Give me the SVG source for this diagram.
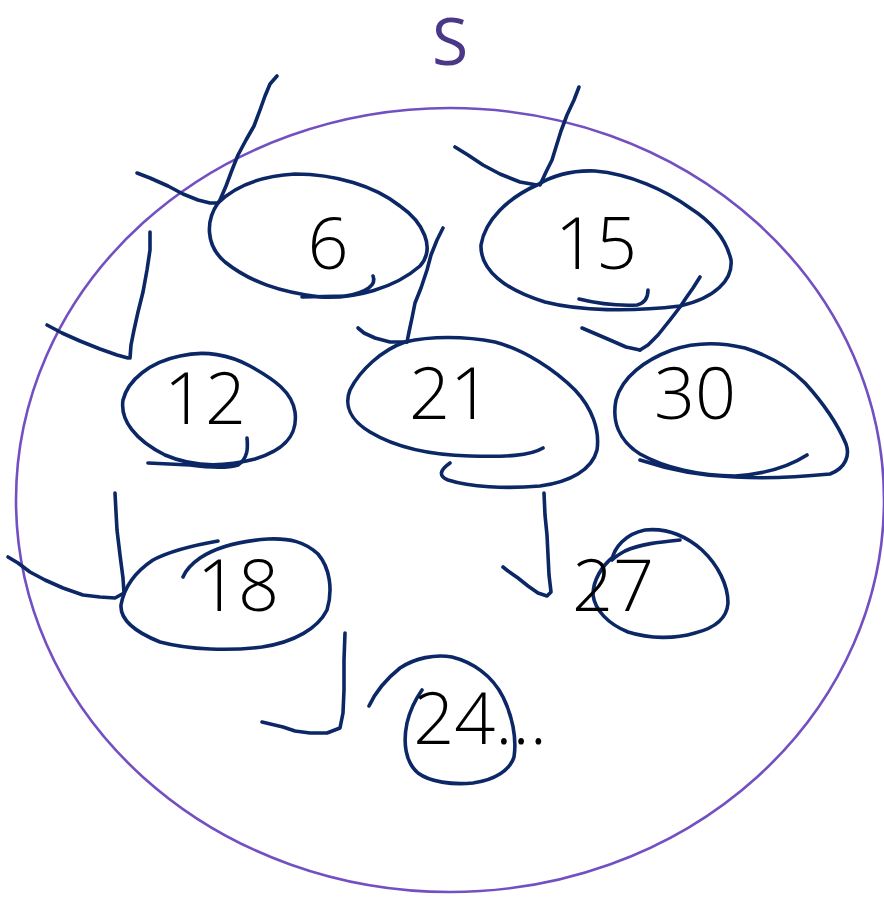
<svg xmlns="http://www.w3.org/2000/svg" width="884" height="899" viewBox="0 0 884 899">
<style>
.ink{fill:none;stroke:#0c2766;stroke-width:3.6;stroke-linecap:round;stroke-linejoin:round}
.num{font-family:"Open Sans","Segoe UI","Liberation Sans",sans-serif;font-weight:300;font-size:72px;fill:#000;text-anchor:middle}
</style>
<rect width="884" height="899" fill="#fff"/>
<g id="set-S">
<ellipse cx="450" cy="500" rx="434" ry="392" fill="none" stroke="#7350c2" stroke-width="2.6"/>
<text x="450" y="65" font-family="'Open Sans','Segoe UI','Liberation Sans',sans-serif" font-weight="400" font-size="66" fill="#4a3788" text-anchor="middle">S</text>
</g>
<g id="connectors">
<polyline class="ink" points="277,76 270,84 265,96 260,110 254,126 246,140 238,155 232,170 226,186 220,200 218,203"/>
<polyline class="ink" points="137,173 150,178 168,186 183,194 198,200 210,203 218,203"/>
<polyline class="ink" points="443,228 437,240 431,255 427,270 421,288 415,303 412,318 409,332 407,342"/>
<polyline class="ink" points="358,328 364,333 375,338 390,342 407,342"/>
<polyline class="ink" points="579,87 574,100 567,115 561,131 556,147 552,160 546,172 540,185"/>
<polyline class="ink" points="455,147 468,155 483,165 500,174 520,182 537,185"/>
<polyline class="ink" points="700,277 693,288 686,298 680,307 670,320 658,335 648,345 640,350"/>
<polyline class="ink" points="582,328 596,334 610,340 626,347 640,350"/>
<polyline class="ink" points="150,232 150,250 147,270 143,292 138,312 134,330 131,345 130,358"/>
<polyline class="ink" points="47,325 62,333 80,341 100,349 117,355 128,358"/>
<polyline class="ink" points="115,493 116,512 117,530 120,555 123,578 124,593"/>
<polyline class="ink" points="8,557 18,563 30,572 45,580 63,588 83,595 100,597 115,598 124,593"/>
<polyline class="ink" points="345,633 344,660 344,690 343,713 340,728 327,733 310,733 295,731 283,727 262,722"/>
<polyline class="ink" points="544,493 545,515 547,535 548,555 549,575 551,592 547,596 538,593 528,586 518,578 508,571 503,567"/>
</g>
<g id="node-6">
<path class="ink" d="M218,203 C206,220 205,245 225,262 C250,282 280,292 320,297 C355,299 395,288 420,266 C436,248 423,222 400,206 C375,186 335,174 295,174 C262,176 235,186 218,203 Z"/>
<path class="ink" d="M373,276 C377,285 366,293 345,296 L302,297"/>
<text class="num" x="328" y="269">6</text>
</g>
<g id="node-15">
<path class="ink" d="M537,185 C508,198 485,220 481,245 C480,270 505,290 545,302 C580,311 630,312 680,306 C715,298 733,280 731,260 C726,238 712,222 690,208 C665,190 630,174 595,171 C570,170 552,176 537,185 Z"/>
<path class="ink" d="M579,299 C595,303 615,306 637,305 C645,303 648,298 648,290"/>
<text class="num" x="596" y="269">15</text>
</g>
<g id="node-12">
<path class="ink" d="M180,356 C150,362 128,380 123,400 C120,420 135,440 165,455 C190,466 220,468 255,459 C285,450 298,435 295,412 C292,392 275,380 250,366 C230,355 205,350 180,356 Z"/>
<path class="ink" d="M247,438 C248,448 248,458 238,465 C225,469 205,467 190,465 L148,463"/>
<text class="num" x="205" y="424">12</text>
</g>
<g id="node-21">
<path class="ink" d="M543,448 C530,456 505,457 470,456 C430,455 395,447 370,432 C350,420 344,405 350,390 C360,370 382,350 405,342 C430,336 465,336 495,342 C525,350 555,370 575,390 C592,408 600,430 597,450 C592,470 570,482 540,486 C505,489 470,487 448,480 C438,476 440,470 450,463"/>
<text class="num" x="450" y="419">21</text>
</g>
<g id="node-30">
<path class="ink" d="M640,460 C670,470 700,476 735,477 C770,479 800,477 830,474 C846,468 850,455 846,444 C838,425 825,405 805,383 C790,368 770,356 745,348 C720,342 695,342 672,350 C645,360 622,377 616,400 C612,420 618,440 640,454 C665,468 700,476 735,476 C765,474 790,466 807,455"/>
<text class="num" x="695" y="419">30</text>
</g>
<g id="node-18">
<path class="ink" d="M218,541 C195,545 172,550 153,560 C135,572 124,588 121,605 C120,620 135,632 160,642 C190,650 230,651 262,647 C295,642 318,628 327,610 C333,590 330,568 318,554 C305,542 290,538 268,539 C240,541 215,548 200,558 C190,565 185,572 183,577"/>
<text class="num" x="238" y="611">18</text>
</g>
<g id="node-27">
<path class="ink" d="M680,540 C660,542 640,544 625,551 C616,556 612,560 612,560 C614,548 625,534 645,530 C665,528 685,535 702,550 C718,565 728,585 728,603 C727,618 715,628 695,633 C675,639 650,639 628,632 C608,624 595,610 593,595 C593,580 602,566 613,557"/>
<text class="num" x="613" y="611">27</text>
</g>
<g id="node-24">
<path class="ink" d="M369,706 C375,693 385,680 400,668 C415,658 435,654 452,657 C472,662 492,675 503,697 C512,715 517,738 514,757 C510,770 495,780 473,783 C452,785 430,782 418,773 C405,762 403,742 407,723 C410,710 415,700 422,690"/>
<text class="num" x="480" y="744">24...</text>
</g>
</svg>
